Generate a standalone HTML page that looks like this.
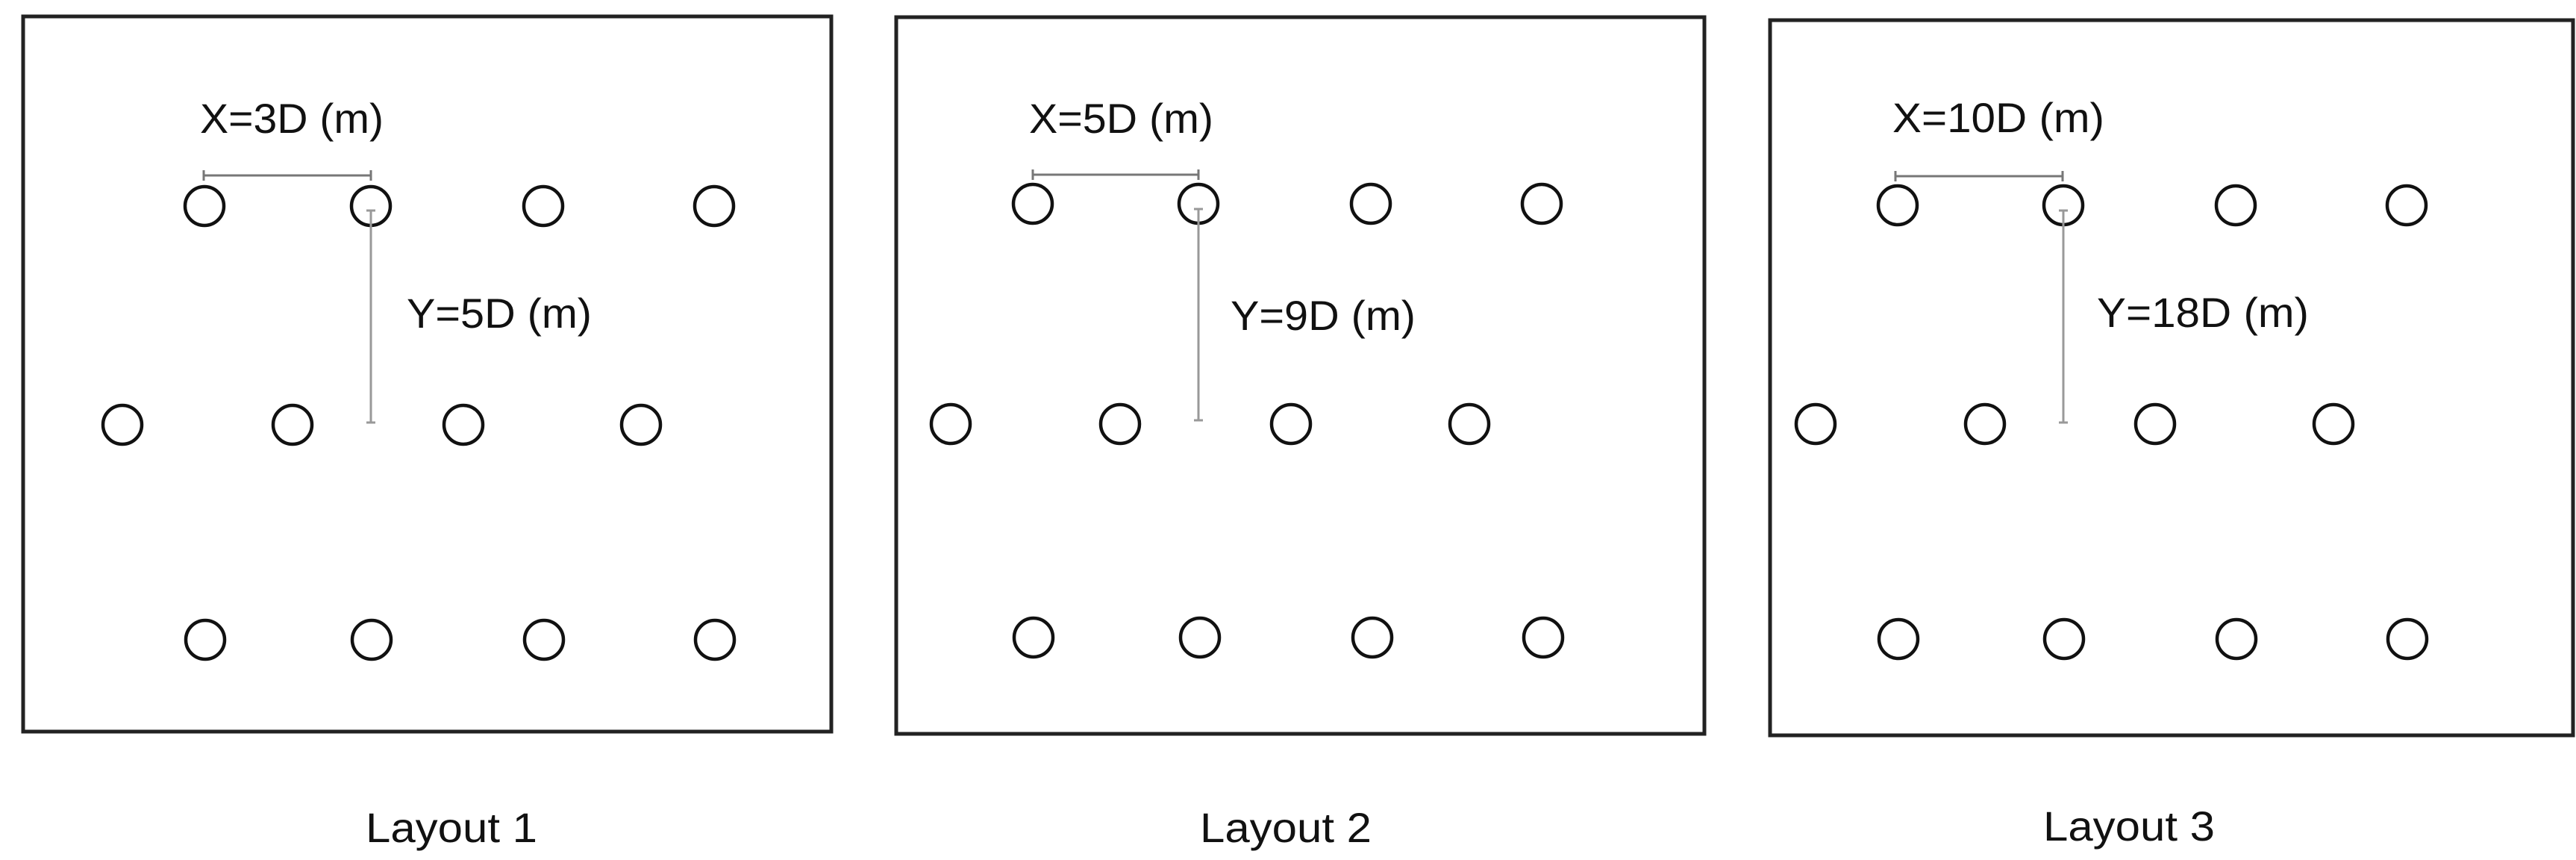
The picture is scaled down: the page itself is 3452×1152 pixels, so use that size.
<!DOCTYPE html>
<html><head><meta charset="utf-8"><style>
html,body{margin:0;padding:0;background:#fff;width:3452px;height:1152px;overflow:hidden}
text{font-family:"Liberation Sans",sans-serif;fill:#111}
</style></head><body>
<svg width="3452" height="1152" viewBox="0 0 3452 1152" xmlns="http://www.w3.org/2000/svg">
<g fill="none" stroke="#222" stroke-width="5">
<rect x="31" y="22" width="1083" height="958"/>
<rect x="1201" y="23" width="1083" height="960"/>
<rect x="2372" y="27" width="1076" height="958"/>
</g>
<g fill="none" stroke="#111" stroke-width="4.5">
<!-- layout1 -->
<circle cx="274" cy="276" r="26"/><circle cx="497" cy="276" r="26"/><circle cx="728" cy="276" r="26"/><circle cx="957" cy="276" r="26"/>
<circle cx="164" cy="569" r="26"/><circle cx="392" cy="569" r="26"/><circle cx="621" cy="569" r="26"/><circle cx="859" cy="569" r="26"/>
<circle cx="275" cy="857" r="26"/><circle cx="498" cy="857" r="26"/><circle cx="729" cy="857" r="26"/><circle cx="958" cy="857" r="26"/>
<!-- layout2 -->
<circle cx="1384" cy="273" r="26"/><circle cx="1606" cy="273" r="26"/><circle cx="1837" cy="273" r="26"/><circle cx="2066" cy="273" r="26"/>
<circle cx="1274" cy="568" r="26"/><circle cx="1501" cy="568" r="26"/><circle cx="1730" cy="568" r="26"/><circle cx="1969" cy="568" r="26"/>
<circle cx="1385" cy="854" r="26"/><circle cx="1608" cy="854" r="26"/><circle cx="1839" cy="854" r="26"/><circle cx="2068" cy="854" r="26"/>
<!-- layout3 -->
<circle cx="2543" cy="275" r="26"/><circle cx="2765" cy="275" r="26"/><circle cx="2996" cy="275" r="26"/><circle cx="3225" cy="275" r="26"/>
<circle cx="2433" cy="568" r="26"/><circle cx="2660" cy="568" r="26"/><circle cx="2888" cy="568" r="26"/><circle cx="3127" cy="568" r="26"/>
<circle cx="2544" cy="856" r="26"/><circle cx="2766" cy="856" r="26"/><circle cx="2997" cy="856" r="26"/><circle cx="3226" cy="856" r="26"/>
</g>
<g stroke="#777" stroke-width="3" fill="none">
<path d="M273 235H497M273 228V242M497 228V242"/>
<path d="M1384 234H1606M1384 227V241M1606 227V241"/>
<path d="M2540 236H2764M2540 229V243M2764 229V243"/>
</g>
<g stroke="#999" stroke-width="3" fill="none">
<path d="M497 282V566M491 282H503M491 566H503"/>
<path d="M1606 280V563M1600 280H1612M1600 563H1612"/>
<path d="M2765 282V566M2759 282H2771M2759 566H2771"/>
</g>
<g font-size="56">
<text x="268" y="178" textLength="246" lengthAdjust="spacingAndGlyphs">X=3D (m)</text>
<text x="545" y="439" textLength="248" lengthAdjust="spacingAndGlyphs">Y=5D (m)</text>
<text x="1379" y="178" textLength="247" lengthAdjust="spacingAndGlyphs">X=5D (m)</text>
<text x="1649" y="442" textLength="248" lengthAdjust="spacingAndGlyphs">Y=9D (m)</text>
<text x="2536" y="177" textLength="284" lengthAdjust="spacingAndGlyphs">X=10D (m)</text>
<text x="2810" y="438" textLength="284" lengthAdjust="spacingAndGlyphs">Y=18D (m)</text>
<text x="490" y="1128" textLength="230" lengthAdjust="spacingAndGlyphs">Layout 1</text>
<text x="1608" y="1128" textLength="230" lengthAdjust="spacingAndGlyphs">Layout 2</text>
<text x="2738" y="1126" textLength="230" lengthAdjust="spacingAndGlyphs">Layout 3</text>
</g>
</svg>
</body></html>
